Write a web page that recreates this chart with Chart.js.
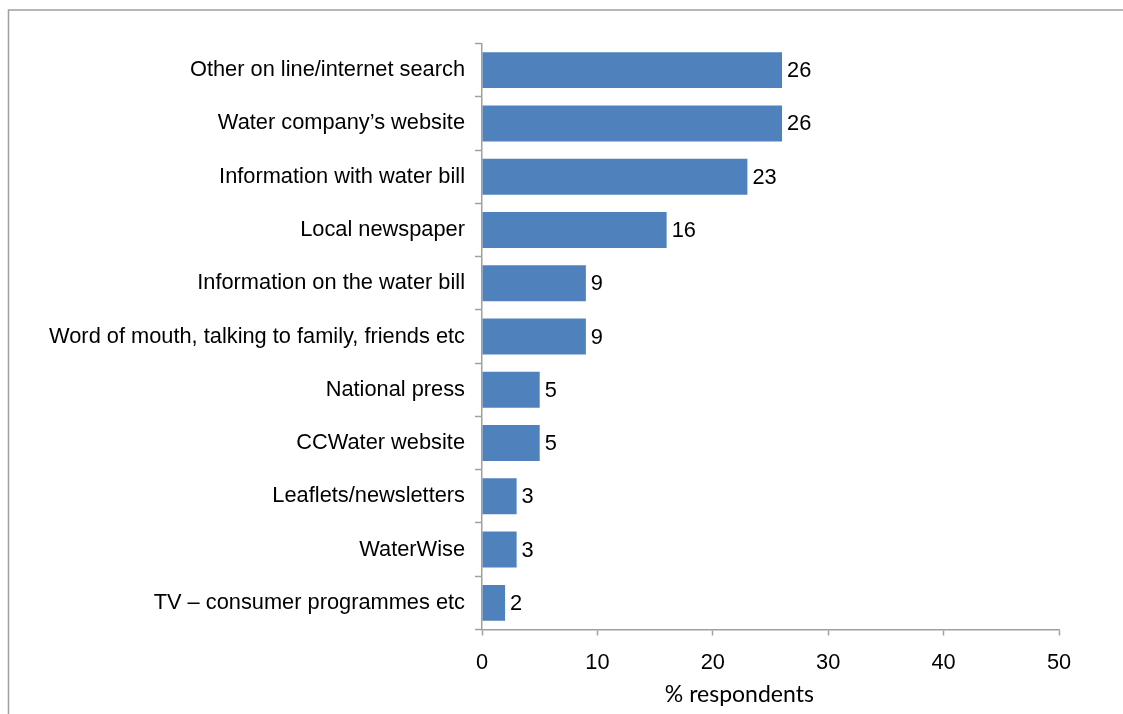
<!DOCTYPE html>
<html>
<head>
<meta charset="utf-8">
<script src="https://cdn.jsdelivr.net/npm/chart.js@4.4.1/dist/chart.umd.min.js"></script>
<style>
  html, body { margin: 0; padding: 0; background: #ffffff; overflow: hidden; }
  #wrap { width: 1123px; height: 714px; position: relative; }
</style>
</head>
<body>
<div id="wrap"><canvas id="chart" width="1123" height="714"></canvas></div>
<script>
// Sources of information, share of respondents
const categories = [
  'Other on line/internet search',
  'Water company\u2019s website',
  'Information with water bill',
  'Local newspaper',
  'Information on the water bill',
  'Word of mouth, talking to family, friends etc',
  'National press',
  'CCWater website',
  'Leaflets/newsletters',
  'WaterWise',
  'TV \u2013 consumer programmes etc'
];
const percentRespondents = [26, 26, 23, 16, 9, 9, 5, 5, 3, 3, 2];
const xTickValues = [0, 10, 20, 30, 40, 50];
const xAxisTitle = '% respondents';

const AXIS_GREY = '#a0a0a0';
const BAR_BLUE = '#4f81bd';
const LABEL_FONT = { family: '"Liberation Sans", Arial, sans-serif', size: 21.8 };
const TITLE_FONT = '23px Lato, "Open Sans", sans-serif';

// Grey frame around the plot, open to the right and bottom edges of the page
const framePlugin = {
  id: 'frame',
  beforeDraw(chart) {
    const ctx = chart.ctx;
    ctx.save();
    ctx.strokeStyle = AXIS_GREY;
    ctx.lineWidth = 1.5;
    ctx.strokeRect(8.5, 10, 1300, 900);
    ctx.restore();
  }
};

// Value printed just past the end of each bar, plus the x-axis caption
const valueLabelPlugin = {
  id: 'valueLabels',
  afterDatasetsDraw(chart) {
    const ctx = chart.ctx;
    const meta = chart.getDatasetMeta(0);
    const values = chart.data.datasets[0].data;
    ctx.save();
    ctx.font = LABEL_FONT.size + 'px ' + LABEL_FONT.family;
    ctx.fillStyle = '#000000';
    ctx.textAlign = 'left';
    ctx.textBaseline = 'middle';
    meta.data.forEach((bar, i) => {
      ctx.fillText(String(values[i]), bar.x + 5, bar.y + 1);
    });
    // caption sits slightly left of the plot centre
    const xs = chart.scales.x;
    ctx.font = TITLE_FONT;
    ctx.textAlign = 'center';
    ctx.textBaseline = 'middle';
    ctx.fillText(xAxisTitle, xs.getPixelForValue(22.3), 695);
    ctx.restore();
  }
};

new Chart(document.getElementById('chart'), {
  type: 'bar',
  data: {
    labels: categories,
    datasets: [{
      data: percentRespondents,
      backgroundColor: BAR_BLUE,
      borderWidth: 0,
      barPercentage: 0.675,
      categoryPercentage: 1.0
    }]
  },
  options: {
    indexAxis: 'y',
    responsive: false,
    animation: false,
    events: [],
    layout: { padding: { top: 43.5, right: 64, left: 0, bottom: 0 } },
    plugins: {
      legend: { display: false },
      tooltip: { enabled: false },
      title: { display: false }
    },
    scales: {
      x: {
        min: 0,
        max: 50,
        afterFit(scale) { scale.height = 84.5; },
        afterBuildTicks(scale) { scale.ticks = xTickValues.map(v => ({ value: v })); },
        border: { display: true, color: AXIS_GREY, width: 1.5 },
        grid: {
          drawOnChartArea: false,
          drawTicks: true,
          tickLength: 6,
          tickColor: AXIS_GREY,
          tickWidth: 1.5
        },
        ticks: {
          color: '#000000',
          font: LABEL_FONT,
          padding: 14,
          maxRotation: 0
        },
        title: { display: false }
      },
      y: {
        afterFit(scale) { scale.width = 482; },
        border: { display: true, color: AXIS_GREY, width: 1.5 },
        grid: {
          offset: true,
          drawOnChartArea: false,
          drawTicks: true,
          tickLength: 7,
          tickColor: AXIS_GREY,
          tickWidth: 1.5
        },
        ticks: {
          color: '#000000',
          font: LABEL_FONT,
          padding: 10,
          autoSkip: false
        }
      }
    }
  },
  plugins: [framePlugin, valueLabelPlugin]
});
</script>
</body>
</html>
